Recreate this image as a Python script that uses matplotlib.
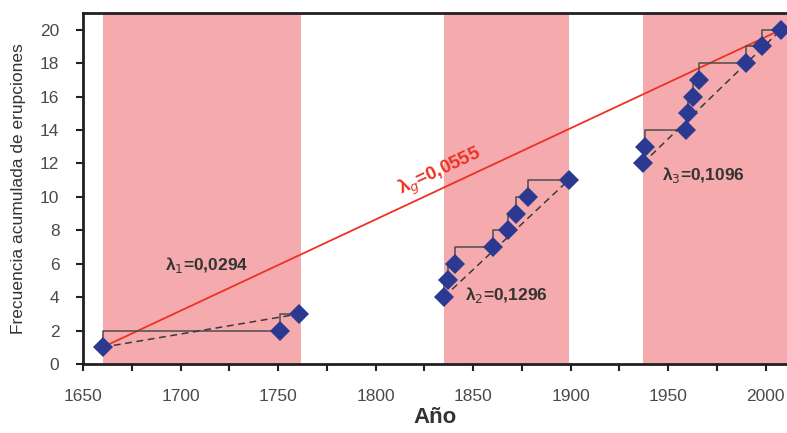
import matplotlib
matplotlib.use("Agg")
import matplotlib.pyplot as plt
from matplotlib.ticker import MultipleLocator

plt.rcParams['font.family'] = ['Liberation Sans', 'DejaVu Sans']

# datos: años de erupción y frecuencia acumulada por periodo
years1 = [1660, 1751, 1761]
counts1 = [1, 2, 3]
years2 = [1835, 1837, 1841, 1860, 1868, 1872, 1878, 1899]
counts2 = [4, 5, 6, 7, 8, 9, 10, 11]
years3 = [1937, 1938, 1959, 1960, 1963, 1966, 1990, 1998, 2008]
counts3 = [12, 13, 14, 15, 16, 17, 18, 19, 20]

# periodos sombreados
periods = [(1660, 1762), (1835, 1899), (1937, 2011)]

labels = ["λ$_1$=0,0294", "λ$_2$=0,1296", "λ$_3$=0,1096"]
label_pos = [(1692, 5.95), (1846, 4.1), (1947, 11.3)]
global_label = "λ$_g$=0,0555"

pink = '#f5aaad'
blue = '#2b3990'
red = '#ee3124'

fig = plt.figure(figsize=(7.87, 4.33), dpi=100)
ax = fig.add_axes([0.1055, 0.1594, 0.8945, 0.8106])

for a, b in periods:
    ax.axvspan(a, b, color=pink, lw=0, zorder=0)

# recta global
all_years = years1 + years2 + years3
all_counts = counts1 + counts2 + counts3
ax.plot([all_years[0], all_years[-1]], [all_counts[0], all_counts[-1]],
        color=red, lw=1.3, zorder=2)

for yrs, cts in [(years1, counts1), (years2, counts2), (years3, counts3)]:
    ax.step(yrs, cts, where='pre', color='#4d4d4d', lw=1.1, zorder=3)
    ax.plot([yrs[0], yrs[-1]], [cts[0], cts[-1]], color='#3a3a3a', lw=1.1,
            dashes=(4.5, 3), zorder=3)
    ax.plot(yrs, cts, 'D', color=blue, markersize=10, markeredgewidth=0, zorder=4)

for txt, (x, y) in zip(labels, label_pos):
    ax.text(x, y, txt, fontsize=12.5, fontweight='bold', color='#333333',
            ha='left', va='center')
ax.text(1833, 11.5, global_label, fontsize=13.5, fontweight='bold', color=red,
        ha='center', va='center', rotation=25)

ax.set_xlim(1650, 2011)
ax.set_ylim(0, 21.0)
ax.xaxis.set_major_locator(MultipleLocator(50))
ax.xaxis.set_minor_locator(MultipleLocator(25))
ax.yaxis.set_major_locator(MultipleLocator(2))
ax.tick_params(which='both', direction='out', length=5, width=1.5, color='#231f20',
               labelsize=12.5, labelcolor='#4a4a4a')
ax.tick_params(axis='y', pad=12)
ax.tick_params(axis='x', pad=13)

for s in ['left', 'bottom', 'top']:
    ax.spines[s].set_linewidth(2)
    ax.spines[s].set_color('#231f20')
ax.spines['right'].set_visible(False)

ax.set_xlabel("Año", fontsize=16, fontweight='bold', color='#333333', labelpad=2)
ax.set_ylabel("Frecuencia acumulada de erupciones", fontsize=12.5, color='#333333',
              labelpad=10)

fig.savefig("out.png", dpi=100)
